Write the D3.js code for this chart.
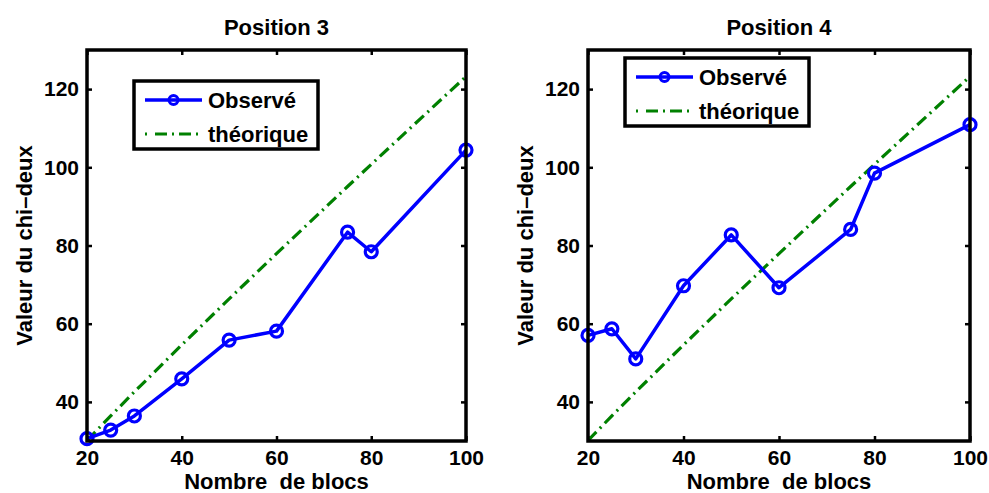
<!DOCTYPE html>
<html><head><meta charset="utf-8">
<script src="https://cdn.jsdelivr.net/npm/d3@7"></script>
<style>body{margin:0;background:#fff}svg{display:block}text{font-family:"Liberation Sans",Arial,sans-serif;font-weight:bold;fill:#000}</style>
</head><body><div id="chart"></div>
<script>
const blocs = [20, 25, 30, 40, 50, 60, 75, 80, 100];
const observePos3 = [30.6, 32.8, 36.4, 45.9, 55.8, 58.1, 83.4, 78.4, 104.4];
const observePos4 = [57.0, 58.7, 51.0, 69.7, 82.7, 69.2, 84.1, 98.5, 110.9];
const theorique = [30.14, 36.42, 42.56, 54.57, 66.34, 77.93, 95.08, 100.75, 123.23];
const xTicks = [20, 40, 60, 80, 100];
const yTicks = [40, 60, 80, 100, 120];
const titles = ["Position 3", "Position 4"];
const legendLabels = ["Observé", "théorique"];

const W = 989, H = 493;
const svg = d3.select("#chart").append("svg").attr("width", W).attr("height", H);

const panels = [
  {title: titles[0], obs: observePos3, x0: 87, x1: 466, leg: {x: 134, y: 81, w: 184, h: 68}},
  {title: titles[1], obs: observePos4, x0: 588, x1: 970, leg: {x: 625, y: 58, w: 184, h: 68}}
];
const plotTop = 50, plotBottom = 441;

panels.forEach(p => {
  const g = svg.append("g");
  const x = d3.scaleLinear().domain([20, 100]).range([p.x0, p.x1]);
  const y = d3.scaleLinear().domain([30, 130]).range([plotBottom, plotTop]);

  g.append("clipPath").attr("id", "clip" + p.x0)
    .append("rect").attr("x", p.x0).attr("y", plotTop).attr("width", p.x1 - p.x0).attr("height", plotBottom - plotTop);

  const xa = g.append("g").attr("transform", `translate(0,${plotBottom})`)
    .call(d3.axisBottom(x).tickValues(xTicks).tickSize(-5).tickPadding(9).tickFormat(d3.format("d")));
  const xt = g.append("g").attr("transform", `translate(0,${plotTop})`)
    .call(d3.axisTop(x).tickValues(xTicks).tickSize(-5).tickFormat(""));
  const ya = g.append("g").attr("transform", `translate(${p.x0},0)`)
    .call(d3.axisLeft(y).tickValues(yTicks).tickSize(-5).tickPadding(8).tickFormat(d3.format("d")));
  const yr = g.append("g").attr("transform", `translate(${p.x1},0)`)
    .call(d3.axisRight(y).tickValues(yTicks).tickSize(-5).tickFormat(""));
  [xa, xt, ya, yr].forEach(a => {
    a.select(".domain").remove();
    a.selectAll(".tick line").attr("stroke", "#000").attr("stroke-width", 2.5);
    a.selectAll(".tick text").attr("font-size", 21).attr("font-family", '"Liberation Sans",Arial,sans-serif').attr("font-weight", "bold").attr("fill", "#000");
  });
  xa.selectAll(".tick text").attr("dy", "0.71em");

  const plot = g.append("g").attr("clip-path", `url(#clip${p.x0})`);
  plot.append("path").datum(blocs.map((b, i) => [b, theorique[i]]))
    .attr("fill", "none").attr("stroke", "#008000").attr("stroke-width", 3.2)
    .attr("stroke-dasharray", "12,5,2,5")
    .attr("d", d3.line().x(d => x(d[0])).y(d => y(d[1])));

  const obsData = blocs.map((b, i) => [b, p.obs[i]]);
  g.append("path").datum(obsData)
    .attr("fill", "none").attr("stroke", "#0000ff").attr("stroke-width", 3.5).attr("stroke-linejoin", "round")
    .attr("d", d3.line().x(d => x(d[0])).y(d => y(d[1])));
  g.selectAll("circle.m").data(obsData).enter().append("circle").attr("class", "m")
    .attr("cx", d => x(d[0])).attr("cy", d => y(d[1])).attr("r", 6)
    .attr("fill", "none").attr("stroke", "#0000ff").attr("stroke-width", 3.2);

  g.append("rect").attr("x", p.x0).attr("y", plotTop).attr("width", p.x1 - p.x0).attr("height", plotBottom - plotTop)
    .attr("fill", "none").attr("stroke", "#000").attr("stroke-width", 3.5);

  const cx = (p.x0 + p.x1) / 2;
  g.append("text").attr("x", cx).attr("y", 35).attr("text-anchor", "middle").attr("font-size", 22).text(p.title);
  g.append("text").attr("x", cx).attr("y", 488.5).attr("text-anchor", "middle").attr("font-size", 22)
    .style("white-space", "pre").text("Nombre  de blocs");
  g.append("text").attr("transform", `translate(${p.x0 - 55},${(plotTop + plotBottom) / 2}) rotate(-90)`)
    .attr("text-anchor", "middle").attr("font-size", 22).text("Valeur du chi–deux");

  const L = p.leg;
  const lg = g.append("g");
  lg.append("rect").attr("x", L.x).attr("y", L.y).attr("width", L.w).attr("height", L.h)
    .attr("fill", "#fff").attr("stroke", "#000").attr("stroke-width", 3.5);
  const r1 = L.y + 19, r2 = L.y + 53;
  lg.append("line").attr("x1", L.x + 11).attr("x2", L.x + 68).attr("y1", r1).attr("y2", r1)
    .attr("stroke", "#0000ff").attr("stroke-width", 3.5);
  lg.append("circle").attr("cx", L.x + 39.5).attr("cy", r1).attr("r", 4.5)
    .attr("fill", "none").attr("stroke", "#0000ff").attr("stroke-width", 3);
  lg.append("line").attr("x1", L.x + 11).attr("x2", L.x + 68).attr("y1", r2).attr("y2", r2)
    .attr("stroke", "#008000").attr("stroke-width", 3.2).attr("stroke-dasharray", "2,8,12,5,2,5,12,5");
  lg.append("text").attr("x", L.x + 74).attr("y", r1 + 8).attr("font-size", 22).text(legendLabels[0]);
  lg.append("text").attr("x", L.x + 74).attr("y", r2 + 8).attr("font-size", 22).text(legendLabels[1]);
});
</script></body></html>
